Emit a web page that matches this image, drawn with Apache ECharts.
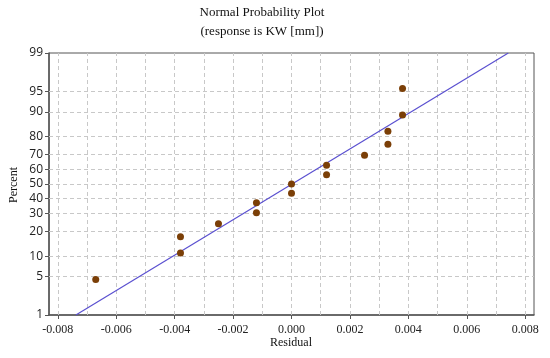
<!DOCTYPE html>
<html><head><meta charset="utf-8">
<script src="https://cdn.jsdelivr.net/npm/echarts@6/dist/echarts.min.js"></script>
<style>html,body{margin:0;padding:0;background:#fff}#c{width:550px;height:358px}</style>
</head><body><div id="c"></div>
<script>
// ---- data ----
const residuals = [-0.0067, -0.0038, -0.0038, -0.0025, -0.0012, -0.0012, 0.0000, 0.0000, 0.0012, 0.0012, 0.0025, 0.0033, 0.0033, 0.0038, 0.0038];
const percents  = [4.5, 11, 17.5, 24, 30.5, 37, 43.5, 50, 56.5, 63, 69.5, 76, 82.5, 89, 95.5];
const fitLineResidual = [-0.00738, 0.00742];
const fitLinePercent  = [1, 99];
const percentTicks  = [1, 5, 10, 20, 30, 40, 50, 60, 70, 80, 90, 95, 99];
const residualTicks = [-0.008, -0.006, -0.004, -0.002, 0, 0.002, 0.004, 0.006, 0.008];
const residualGrid  = [-0.008, -0.007, -0.006, -0.005, -0.004, -0.003, -0.002, -0.001, 0, 0.001, 0.002, 0.003, 0.004, 0.005, 0.006, 0.007, 0.008];
const residualMin = -0.0083, residualMax = 0.0083;

// normal probability scale: percent -> standard normal quantile (Acklam)
function probit(pct) {
  const p = pct / 100;
  const a = [-3.969683028665376e+01, 2.209460984245205e+02, -2.759285104469687e+02, 1.383577518672690e+02, -3.066479806614716e+01, 2.506628277459239e+00];
  const b = [-5.447609879822406e+01, 1.615858368580409e+02, -1.556989798598866e+02, 6.680131188771972e+01, -1.328068155288572e+01];
  const c = [-7.784894002430293e-03, -3.223964580411365e-01, -2.400758277161838e+00, -2.549732539343734e+00, 4.374664141464968e+00, 2.938163982698783e+00];
  const d = [7.784695709041462e-03, 3.224671290700398e-01, 2.445134137142996e+00, 3.754408661907416e+00];
  const pl = 0.02425, ph = 1 - pl;
  let q, r;
  if (p < pl) { q = Math.sqrt(-2 * Math.log(p)); return (((((c[0]*q+c[1])*q+c[2])*q+c[3])*q+c[4])*q+c[5]) / ((((d[0]*q+d[1])*q+d[2])*q+d[3])*q+1); }
  if (p > ph) { q = Math.sqrt(-2 * Math.log(1 - p)); return -(((((c[0]*q+c[1])*q+c[2])*q+c[3])*q+c[4])*q+c[5]) / ((((d[0]*q+d[1])*q+d[2])*q+d[3])*q+1); }
  q = p - 0.5; r = q * q;
  return (((((a[0]*r+a[1])*r+a[2])*r+a[3])*r+a[4])*r+a[5])*q / (((((b[0]*r+b[1])*r+b[2])*r+b[3])*r+b[4])*r+1);
}

const zTicks = percentTicks.map(probit);
const zMin = probit(percentTicks[0]), zMax = probit(percentTicks[percentTicks.length - 1]);
const points = residuals.map((r, i) => [r, probit(percents[i])]);
const fitLine = fitLineResidual.map((r, i) => [r, probit(fitLinePercent[i])]);

const gridStyle = { color: '#c8c8c8', type: [4, 3], width: 1 };
const gridLines = [];
residualGrid.forEach(v => gridLines.push([{ coord: [v, zMin] }, { coord: [v, zMax] }]));
percentTicks.slice(1, -1).forEach(p => gridLines.push([{ coord: [residualMin, probit(p)] }, { coord: [residualMax, probit(p)] }]));

const chart = echarts.init(document.getElementById('c'), null, { renderer: 'canvas' });
chart.setOption({
  animation: false,
  backgroundColor: '#fff',
  grid: { left: 49, right: 16, top: 53, bottom: 43, show: true, borderColor: '#555', borderWidth: 1, containLabel: false },
  xAxis: {
    type: 'value', min: residualMin, max: residualMax,
    axisLine: { show: true, onZero: false, lineStyle: { color: '#555', width: 1.5 } },
    axisTick: { show: true, length: 4, customValues: residualTicks, lineStyle: { color: '#555' } },
    axisLabel: { customValues: residualTicks, formatter: v => (Math.abs(v) < 1e-12 ? 0 : v).toFixed(3),
      fontFamily: 'Liberation Serif', fontSize: 12, color: '#222', margin: 9 },
    splitLine: { show: false }
  },
  yAxis: {
    type: 'value', min: zMin, max: zMax,
    axisLine: { show: true, onZero: false, lineStyle: { color: '#555', width: 1.5 } },
    axisTick: { show: true, length: 4, customValues: zTicks, lineStyle: { color: '#555' } },
    axisLabel: { customValues: zTicks, fontFamily: 'Open Sans', fontSize: 12, color: '#222', margin: 6,
      formatter: v => { let bi = 0; zTicks.forEach((z, i) => { if (Math.abs(z - v) < Math.abs(zTicks[bi] - v)) bi = i; }); return String(percentTicks[bi]); } },
    splitLine: { show: false }
  },
  graphic: [
    { type: 'text', x: 262, y: 6, style: { text: 'Normal Probability Plot', textAlign: 'center', font: '13px "Liberation Serif"', fill: '#111' } },
    { type: 'text', x: 262, y: 25, style: { text: '(response is KW [mm])', textAlign: 'center', font: '13px "Liberation Serif"', fill: '#111' } },
    { type: 'text', x: 291, y: 337, style: { text: 'Residual', textAlign: 'center', font: '12px "Liberation Serif"', fill: '#111' } },
    { type: 'text', x: 8, y: 185, rotation: Math.PI / 2, style: { text: 'Percent', textAlign: 'center', textVerticalAlign: 'top', font: '12px "Liberation Serif"', fill: '#111' } }
  ],
  series: [
    { type: 'line', data: fitLine, showSymbol: false, symbol: 'none', lineStyle: { color: '#5a50d0', width: 1.2 }, z: 3, silent: true,
      markLine: { silent: true, symbol: ['none', 'none'], label: { show: false }, lineStyle: gridStyle, animation: false, z: 1, data: gridLines } },
    { type: 'scatter', data: points, symbolSize: 7, itemStyle: { color: '#7b3f07', opacity: 1 }, z: 4 }
  ]
});
</script>
</body></html>
